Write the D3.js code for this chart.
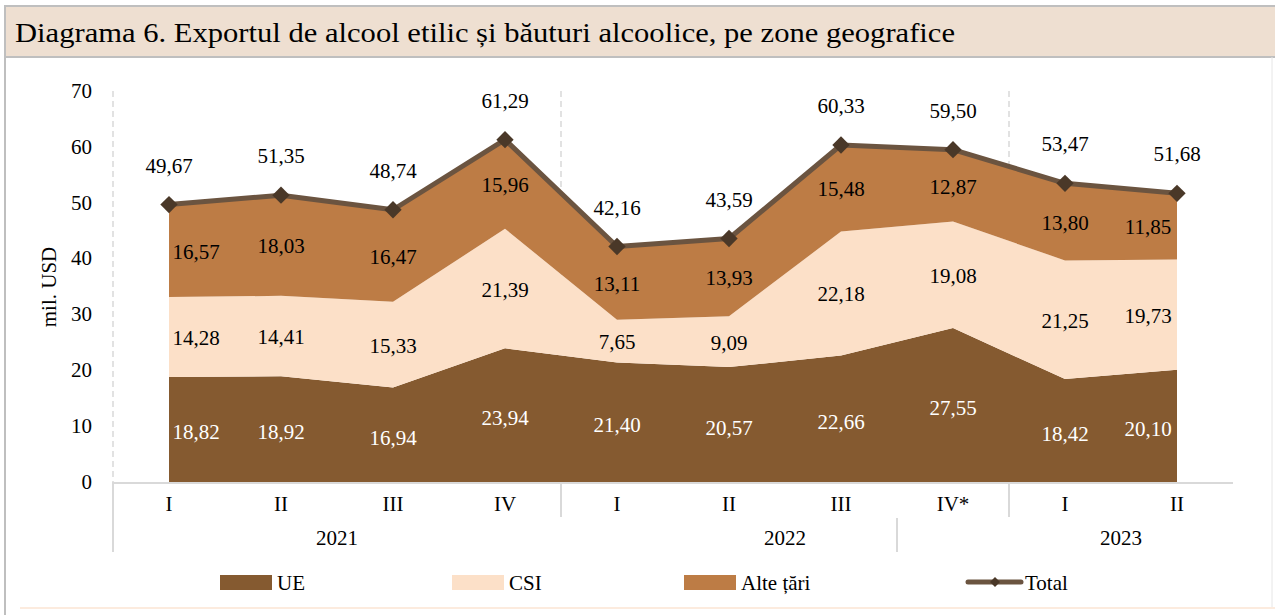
<!DOCTYPE html>
<html>
<head>
<meta charset="utf-8">
<script src="https://cdn.jsdelivr.net/npm/d3@7"></script>
<style>
  body { margin: 0; background: #fff; }
  text { font-family: "Liberation Serif", serif; fill: #000; }
</style>
</head>
<body>
<div id="chart"></div>
<script>
// data
var quarters = ["I", "II", "III", "IV", "I", "II", "III", "IV*", "I", "II"];
var years = ["2021", "2022", "2023"];
var ue    = [18.82, 18.92, 16.94, 23.94, 21.40, 20.57, 22.66, 27.55, 18.42, 20.10];
var csi   = [14.28, 14.41, 15.33, 21.39, 7.65, 9.09, 22.18, 19.08, 21.25, 19.73];
var alte  = [16.57, 18.03, 16.47, 15.96, 13.11, 13.93, 15.48, 12.87, 13.80, 11.85];
var total = [49.67, 51.35, 48.74, 61.29, 42.16, 43.59, 60.33, 59.50, 53.47, 51.68];
var yTicks = [0, 10, 20, 30, 40, 50, 60, 70];

var W = 1275, H = 615;
var fs = "21px";
var fmt = function(v) { return v.toFixed(2).replace(".", ","); };

var svg = d3.select("#chart").append("svg")
    .attr("width", W).attr("height", H);

// frame + title bar
svg.append("rect").attr("x", 5).attr("y", 6).attr("width", W - 5).attr("height", 51)
    .attr("fill", "#EEDFD1");
svg.append("line").attr("x1", 5).attr("x2", W).attr("y1", 6).attr("y2", 6)
    .attr("stroke", "#BFBFBF").attr("stroke-width", 2);
svg.append("line").attr("x1", 5).attr("x2", W).attr("y1", 57).attr("y2", 57)
    .attr("stroke", "#BFBFBF").attr("stroke-width", 2);
svg.append("line").attr("x1", 5).attr("x2", 5).attr("y1", 5).attr("y2", H)
    .attr("stroke", "#BFBFBF").attr("stroke-width", 2);
svg.append("line").attr("x1", 1272).attr("x2", 1272).attr("y1", 57).attr("y2", 607)
    .attr("stroke", "#E6E6E6").attr("stroke-width", 1);
svg.append("line").attr("x1", 20).attr("x2", W).attr("y1", 608).attr("y2", 608)
    .attr("stroke", "#FBE5D3").attr("stroke-width", 1.5);

svg.append("text").attr("x", 15).attr("y", 42)
    .style("font-size", "28px")
    .attr("textLength", 940).attr("lengthAdjust", "spacingAndGlyphs")
    .text("Diagrama 6. Exportul de alcool etilic și băuturi alcoolice, pe zone geografice");

// scales
var x = d3.scaleBand().domain(d3.range(quarters.length)).range([113, 1233]);
var cx = function(i) { return x(i) + x.bandwidth() / 2; };
var y = d3.scaleLinear().domain([0, 70]).range([482, 91]);

// dashed separators
[0, 4, 8].forEach(function(i) {
  svg.append("line").attr("x1", x(i)).attr("x2", x(i))
     .attr("y1", y(70)).attr("y2", y(0))
     .attr("stroke", "#D9D9D9").attr("stroke-width", 1.5)
     .attr("stroke-dasharray", "6,4");
});

// stacked areas
var rows = d3.range(quarters.length).map(function(i) {
  return { i: i, ue: ue[i], csi: csi[i], alte: alte[i] };
});
var keys = ["ue", "csi", "alte"];
var colors = { ue: "#855A30", csi: "#FCE0C8", alte: "#BD7C45" };
var stack = d3.stack().keys(keys)(rows);

var area = d3.area()
    .x(function(d) { return cx(d.data.i); })
    .y0(function(d) { return y(d[0]); })
    .y1(function(d) { return y(d[1]); });

svg.selectAll("path.area").data(stack).enter().append("path")
    .attr("class", "area")
    .attr("d", area)
    .attr("fill", function(d) { return colors[d.key]; });

// segment labels
stack.forEach(function(s) {
  svg.selectAll("text.lab-" + s.key).data(s).enter().append("text")
     .attr("class", "lab-" + s.key)
     .attr("x", function(d, i) {
        var off = i === 0 ? 27 : (i === quarters.length - 1 ? -29 : 0);
        return cx(i) + off;
     })
     .attr("y", function(d) { return y((d[0] + d[1]) / 2) + (s.key === "ue" ? 10 : 8); })
     .attr("text-anchor", "middle")
     .style("font-size", fs)
     .style("fill", s.key === "ue" ? "#fff" : "#000")
     .text(function(d) { return fmt(d[1] - d[0]); });
});

// total line
var line = d3.line().x(function(d, i) { return cx(i); }).y(function(d) { return y(d); });
svg.append("path").attr("d", line(total))
    .attr("fill", "none").attr("stroke", "#6B5440").attr("stroke-width", 5)
    .attr("stroke-linejoin", "round");

var diamond = d3.symbol().type(d3.symbolSquare).size(150);
svg.selectAll("path.mk").data(total).enter().append("path")
    .attr("class", "mk")
    .attr("d", diamond)
    .attr("transform", function(d, i) { return "translate(" + cx(i) + "," + y(d) + ") rotate(45)"; })
    .attr("fill", "#4A3828");

svg.selectAll("text.tot").data(total).enter().append("text")
    .attr("class", "tot")
    .attr("x", function(d, i) { return cx(i); })
    .attr("y", function(d) { return y(d) - 32; })
    .attr("text-anchor", "middle")
    .style("font-size", fs)
    .text(fmt);

// y axis
var yAxis = d3.axisLeft(y).tickValues(yTicks).tickSize(0).tickPadding(3);
var gy = svg.append("g").attr("transform", "translate(95,0)").call(yAxis);
gy.select(".domain").remove();
gy.selectAll("text").style("font-size", fs).style("font-family", "Liberation Serif, serif")
    .attr("dy", "0.3em");

svg.append("text")
    .attr("transform", "translate(56,287) rotate(-90)")
    .attr("text-anchor", "middle")
    .style("font-size", fs)
    .text("mil. USD");

// x axis (two level)
var gc = "#D9D9D9";
svg.append("line").attr("x1", 113).attr("x2", 1233).attr("y1", y(0) + 1).attr("y2", y(0) + 1)
    .attr("stroke", gc).attr("stroke-width", 2);
[[113, 482, 552], [561, 482, 517], [1009, 482, 517], [897, 518, 552]].forEach(function(s) {
  svg.append("line").attr("x1", s[0]).attr("x2", s[0]).attr("y1", s[1]).attr("y2", s[2])
     .attr("stroke", gc).attr("stroke-width", 2);
});

svg.selectAll("text.q").data(quarters).enter().append("text")
    .attr("class", "q")
    .attr("x", function(d, i) { return cx(i); })
    .attr("y", 511)
    .attr("text-anchor", "middle")
    .style("font-size", fs)
    .text(function(d) { return d; });

var yearPos = [[0, 3], [4, 7], [8, 9]];
svg.selectAll("text.yr").data(years).enter().append("text")
    .attr("class", "yr")
    .attr("x", function(d, k) { return (x(yearPos[k][0]) + x(yearPos[k][1]) + x.bandwidth()) / 2; })
    .attr("y", 545)
    .attr("text-anchor", "middle")
    .style("font-size", fs)
    .text(function(d) { return d; });

// legend
var legend = [
  { name: "UE", type: "rect", color: colors.ue, x: 220 },
  { name: "CSI", type: "rect", color: colors.csi, x: 452 },
  { name: "Alte țări", type: "rect", color: colors.alte, x: 684 },
  { name: "Total", type: "line", color: "#6B5440", x: 968 }
];
legend.forEach(function(l) {
  if (l.type === "rect") {
    svg.append("rect").attr("x", l.x).attr("y", 575).attr("width", 52).attr("height", 15)
       .attr("fill", l.color);
  } else {
    svg.append("line").attr("x1", l.x).attr("x2", l.x + 53).attr("y1", 582).attr("y2", 582)
       .attr("stroke", l.color).attr("stroke-width", 5).attr("stroke-linecap", "round");
    svg.append("path").attr("d", d3.symbol().type(d3.symbolSquare).size(50))
       .attr("transform", "translate(" + (l.x + 27) + ",582) rotate(45)")
       .attr("fill", "#4A3828");
  }
  svg.append("text").attr("x", l.x + 57).attr("y", 590)
     .style("font-size", fs)
     .text(l.name);
});
</script>
</body>
</html>
